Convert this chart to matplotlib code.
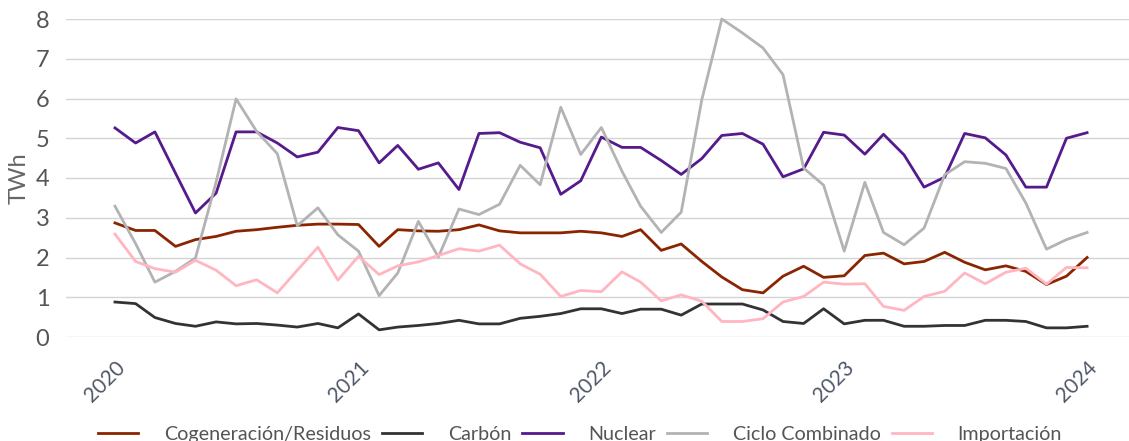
import matplotlib
matplotlib.use("Agg")
import matplotlib.pyplot as plt
import matplotlib.dates as mdates
import pandas as pd

# monthly generation, TWh (Jan 2020 - Jan 2024)
months = pd.date_range("2020-01-01", periods=49, freq="MS")

cogeneracion = [2.87, 2.68, 2.68, 2.28, 2.45, 2.53, 2.66, 2.70, 2.76, 2.81, 2.84, 2.84,
                2.83, 2.28, 2.70, 2.67, 2.66, 2.70, 2.82, 2.67, 2.62, 2.62, 2.62, 2.66,
                2.62, 2.53, 2.70, 2.18, 2.34, 1.90, 1.51, 1.19, 1.11, 1.53, 1.78, 1.50,
                1.54, 2.05, 2.11, 1.84, 1.90, 2.13, 1.88, 1.69, 1.79, 1.65, 1.32, 1.53, 2.00]
carbon = [0.88, 0.84, 0.49, 0.34, 0.27, 0.38, 0.33, 0.34, 0.30, 0.25, 0.34, 0.23,
          0.58, 0.18, 0.25, 0.29, 0.34, 0.42, 0.33, 0.33, 0.47, 0.52, 0.59, 0.71,
          0.71, 0.59, 0.70, 0.70, 0.55, 0.83, 0.83, 0.83, 0.68, 0.39, 0.34, 0.71,
          0.33, 0.42, 0.42, 0.27, 0.27, 0.29, 0.29, 0.42, 0.42, 0.39, 0.23, 0.23, 0.27]
nuclear = [5.26, 4.88, 5.16, 4.12, 3.12, 3.62, 5.16, 5.16, 4.88, 4.53, 4.65, 5.27,
           5.19, 4.38, 4.82, 4.22, 4.38, 3.71, 5.12, 5.14, 4.90, 4.76, 3.59, 3.93,
           5.03, 4.77, 4.77, 4.44, 4.09, 4.49, 5.07, 5.12, 4.85, 4.03, 4.23, 5.15,
           5.08, 4.60, 5.10, 4.58, 3.77, 4.02, 5.12, 5.01, 4.58, 3.77, 3.77, 5.00, 5.14]
ciclo = [3.29, 2.35, 1.38, 1.65, 1.99, 3.90, 5.99, 5.17, 4.61, 2.80, 3.25, 2.57,
         2.16, 1.04, 1.61, 2.91, 2.01, 3.22, 3.08, 3.34, 4.32, 3.83, 5.78, 4.59,
         5.27, 4.17, 3.29, 2.63, 3.14, 5.97, 8.00, 7.65, 7.27, 6.60, 4.25, 3.82,
         2.16, 3.89, 2.63, 2.32, 2.74, 4.08, 4.41, 4.37, 4.24, 3.37, 2.21, 2.45, 2.63]
importacion = [2.59, 1.90, 1.72, 1.63, 1.93, 1.68, 1.29, 1.44, 1.11, 1.68, 2.26, 1.43,
               2.03, 1.57, 1.79, 1.89, 2.05, 2.22, 2.16, 2.31, 1.84, 1.58, 1.02, 1.17,
               1.14, 1.64, 1.38, 0.91, 1.06, 0.90, 0.39, 0.39, 0.46, 0.88, 1.02, 1.38,
               1.33, 1.34, 0.77, 0.67, 1.02, 1.15, 1.61, 1.34, 1.63, 1.73, 1.33, 1.75, 1.74]

series = [cogeneracion, carbon, nuclear, ciclo, importacion]
labels = ["Cogeneración/Residuos", "Carbón", "Nuclear", "Ciclo Combinado", "Importación"]
colors = ["#8B2500", "#333333", "#551A8B", "#B3B3B3", "#FFB6C1"]

plt.rcParams["font.family"] = ["Lato", "DejaVu Sans"]

fig = plt.figure(figsize=(11.29, 4.41), dpi=100)
ax = fig.add_axes([66 / 1129, 1 - 337 / 441, 1 - 66 / 1129, 318 / 441])

for vals, lab, col in zip(series, labels, colors):
    ax.plot(months, vals, color=col, lw=2, label=lab, clip_on=False)

ax.set_ylim(0, 8)
ax.set_yticks(range(9))
ax.set_xlim(pd.Timestamp("2020-01-01") - pd.Timedelta(days=73.6),
            pd.Timestamp("2024-01-01") + pd.Timedelta(days=63))
ax.xaxis.set_major_locator(mdates.YearLocator())
ax.xaxis.set_major_formatter(mdates.DateFormatter("%Y"))

ax.grid(axis="y", color="#d4d4d4", lw=1)
ax.set_axisbelow(True)
for s in ax.spines.values():
    s.set_visible(False)
ax.tick_params(axis="y", length=0, pad=12, labelsize=17, labelcolor="#555555")
ax.tick_params(axis="x", length=0, pad=15, labelsize=15, labelcolor="#4f5868")
for lbl in ax.get_xticklabels():
    lbl.set_rotation(45)
    lbl.set_ha("right")
    lbl.set_rotation_mode("anchor")

ax.set_ylabel("TWh", fontsize=17, color="#666666", labelpad=4)

leg = fig.legend(loc="lower center", bbox_to_anchor=(580 / 1129, -0.045), ncol=5,
                 frameon=False, fontsize=14.2, handlelength=2.05, handletextpad=1.3,
                 columnspacing=0.55)
for t in leg.get_texts():
    t.set_color("#555555")

fig.savefig("out.png", dpi=100)
